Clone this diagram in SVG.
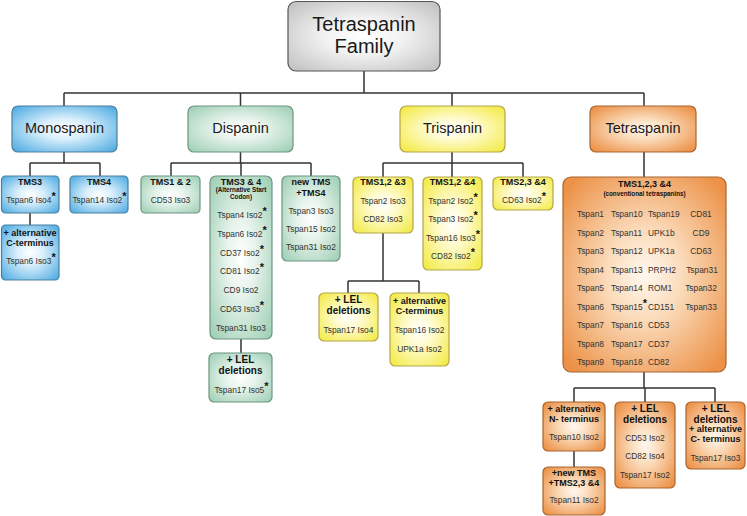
<svg xmlns="http://www.w3.org/2000/svg" width="747" height="516" viewBox="0 0 747 516">
<defs>
<radialGradient id="gGray" cx="50%" cy="50%" r="65%"><stop offset="0" stop-color="#ffffff"/><stop offset="0.4" stop-color="#f2f2f2"/><stop offset="1" stop-color="#c4c4c4"/></radialGradient>
<radialGradient id="gBlue" cx="50%" cy="50%" r="65%"><stop offset="0" stop-color="#ffffff"/><stop offset="0.35" stop-color="#d9effb"/><stop offset="1" stop-color="#56afe4"/></radialGradient>
<radialGradient id="gGreen" cx="50%" cy="50%" r="65%"><stop offset="0" stop-color="#ffffff"/><stop offset="0.35" stop-color="#e8f4ed"/><stop offset="1" stop-color="#a3d1b8"/></radialGradient>
<radialGradient id="gYellow" cx="50%" cy="50%" r="65%"><stop offset="0" stop-color="#ffffff"/><stop offset="0.35" stop-color="#fffbd0"/><stop offset="1" stop-color="#f3eb4a"/></radialGradient>
<radialGradient id="gOrange" cx="50%" cy="50%" r="65%"><stop offset="0" stop-color="#fff8f0"/><stop offset="0.35" stop-color="#fbdcbc"/><stop offset="1" stop-color="#ec9147"/></radialGradient>
</defs>
<style>
text{font-family:"Liberation Sans",Arial,sans-serif;text-anchor:middle;}
.top{font-size:20px;fill:#1a1a1a;}
.l1{font-size:14.5px;fill:#1a1a1a;}
.h{font-size:9px;font-weight:bold;fill:#111;}
.hl{font-size:10px;font-weight:bold;fill:#111;}
.sm{font-size:6.3px;font-weight:bold;fill:#111;}
.t{font-size:8.4px;fill:#333;}
.s{font-size:11px;font-weight:bold;fill:#111;}
.gray{fill:url(#gGray);stroke:#555;stroke-width:1.2;}
.blue{fill:url(#gBlue);stroke:#4a7f9e;stroke-width:1.2;}
.green{fill:url(#gGreen);stroke:#6e9481;stroke-width:1.2;}
.yellow{fill:url(#gYellow);stroke:#b3a54c;stroke-width:1.2;}
.orange{fill:url(#gOrange);stroke:#a8652e;stroke-width:1.2;}
.ln{fill:none;stroke:#333;stroke-width:1.5;}
</style>
<rect width="747" height="516" fill="#ffffff"/>

<g id="connectors" class="ln">
<path d="M364,71 V93 M64,93 H644 M64,93 V106 M240.5,93 V106 M452,93 V106 M644,93 V106"/>
<path d="M64,152 V163 M30,163 H100 M30,163 V176 M100,163 V176 M30,213 V225"/>
<path d="M240.5,152 V163 M171,163 H311 M171,163 V176 M241,163 V176 M311,163 V176 M241,339 V353"/>
<path d="M452,152 V163 M383,163 H523 M383,163 V177 M452,163 V177 M523,163 V177 M383,233 V281 M348,281 H419 M348,281 V293 M419,281 V293"/>
<path d="M644,152 V177 M644,372 V388 M574,388 H715 M574,388 V402 M645,388 V402 M715,388 V402 M574,451 V467"/>
</g>

<g id="root">
<rect class="gray" x="288" y="1.5" width="152" height="69.5" rx="8"/>
<text class="top" x="364" y="31">Tetraspanin</text>
<text class="top" x="364" y="53">Family</text>
</g>

<g id="monospanin">
<rect class="blue" x="12" y="106" width="105" height="46" rx="6"/>
<text class="l1" x="64.5" y="133">Monospanin</text>
</g>
<g id="dispanin">
<rect class="green" x="188" y="106" width="105" height="46" rx="6"/>
<text class="l1" x="240.5" y="133">Dispanin</text>
</g>
<g id="trispanin">
<rect class="yellow" x="400" y="106" width="105" height="46" rx="6"/>
<text class="l1" x="452.5" y="133">Trispanin</text>
</g>
<g id="tetraspanin">
<rect class="orange" x="590" y="106" width="106" height="46" rx="6"/>
<text class="l1" x="643" y="133">Tetraspanin</text>
</g>

<!-- Monospanin children -->
<g id="mono-tms3">
<rect class="blue" x="1.5" y="176" width="57.5" height="37" rx="4"/>
<text class="h" x="30" y="185">TMS3</text>
<text class="t" x="31" y="203">Tspan6 Iso4<tspan class="s" dy="-3">*</tspan></text>
</g>
<g id="mono-tms4">
<rect class="blue" x="70" y="176" width="58" height="37" rx="4"/>
<text class="h" x="99" y="185">TMS4</text>
<text class="t" x="99.5" y="203">Tspan14 Iso2<tspan class="s" dy="-3">*</tspan></text>
</g>
<g id="mono-altc">
<rect class="blue" x="1.5" y="225" width="57.5" height="55" rx="4"/>
<text class="h" x="30" y="236">+ alternative</text>
<text class="h" x="30" y="246">C-terminus</text>
<text class="t" x="31" y="264">Tspan6 Iso3<tspan class="s" dy="-3">*</tspan></text>
</g>

<!-- Dispanin children -->
<g id="di-tms12">
<rect class="green" x="141" y="176" width="59" height="37" rx="4"/>
<text class="h" x="170.5" y="185">TMS1 &amp; 2</text>
<text class="t" x="170.5" y="203">CD53 Iso3</text>
</g>
<g id="di-tms34">
<rect class="green" x="210" y="176" width="62" height="163" rx="6"/>
<text class="h" x="241" y="185">TMS3 &amp; 4</text>
<text class="sm" x="241" y="192">(Alternative Start</text>
<text class="sm" x="241" y="198.5">Codon)</text>
<text class="t" x="242" y="218">Tspan4 Iso2<tspan class="s" dy="-3">*</tspan></text>
<text class="t" x="242" y="237">Tspan6 Iso2<tspan class="s" dy="-3">*</tspan></text>
<text class="t" x="242" y="256">CD37 Iso2<tspan class="s" dy="-3">*</tspan></text>
<text class="t" x="242" y="274">CD81 Iso2<tspan class="s" dy="-3">*</tspan></text>
<text class="t" x="241" y="293">CD9 Iso2</text>
<text class="t" x="242" y="312">CD63 Iso3<tspan class="s" dy="-3">*</tspan></text>
<text class="t" x="241" y="331">Tspan31 Iso3</text>
</g>
<g id="di-newtms">
<rect class="green" x="282" y="176" width="58" height="85" rx="5"/>
<text class="h" x="311" y="185">new TMS</text>
<text class="h" x="311" y="196">+TMS4</text>
<text class="t" x="311" y="214">Tspan3 Iso3</text>
<text class="t" x="311" y="232">Tspan15 Iso2</text>
<text class="t" x="311" y="250">Tspan31 Iso2</text>
</g>
<g id="di-lel">
<rect class="green" x="209" y="353" width="63" height="49" rx="5"/>
<text class="hl" x="240.5" y="363">+ LEL</text>
<text class="hl" x="240.5" y="374">deletions</text>
<text class="t" x="241.5" y="393">Tspan17 Iso5<tspan class="s" dy="-3">*</tspan></text>
</g>

<!-- Trispanin children -->
<g id="tri-tms123">
<rect class="yellow" x="353" y="177" width="60" height="56" rx="5"/>
<text class="h" x="383" y="185">TMS1,2 &amp;3</text>
<text class="t" x="383" y="204">Tspan2 Iso3</text>
<text class="t" x="383" y="222">CD82 Iso3</text>
</g>
<g id="tri-tms124">
<rect class="yellow" x="423" y="177" width="59" height="93" rx="5"/>
<text class="h" x="452.5" y="185">TMS1,2 &amp;4</text>
<text class="t" x="453" y="204">Tspan2 Iso2<tspan class="s" dy="-3">*</tspan></text>
<text class="t" x="453" y="222">Tspan3 Iso2<tspan class="s" dy="-3">*</tspan></text>
<text class="t" x="453" y="241">Tspan16 Iso3<tspan class="s" dy="-3">*</tspan></text>
<text class="t" x="453" y="259">CD82 Iso2<tspan class="s" dy="-3">*</tspan></text>
</g>
<g id="tri-tms234">
<rect class="yellow" x="493" y="177" width="60" height="33" rx="5"/>
<text class="h" x="523" y="185">TMS2,3 &amp;4</text>
<text class="t" x="524" y="203">CD63 Iso2<tspan class="s" dy="-3">*</tspan></text>
</g>
<g id="tri-lel">
<rect class="yellow" x="319" y="293" width="59" height="48" rx="5"/>
<text class="hl" x="348.5" y="303">+ LEL</text>
<text class="hl" x="348.5" y="314">deletions</text>
<text class="t" x="348.5" y="333">Tspan17 Iso4</text>
</g>
<g id="tri-altc">
<rect class="yellow" x="390" y="293" width="59" height="73" rx="5"/>
<text class="h" x="419.5" y="304">+ alternative</text>
<text class="h" x="419.5" y="314">C-terminus</text>
<text class="t" x="419.5" y="333">Tspan16 Iso2</text>
<text class="t" x="419.5" y="352">UPK1a Iso2</text>
</g>

<!-- Tetraspanin children -->
<g id="tetra-main">
<rect class="orange" x="563" y="177" width="163" height="195" rx="8"/>
<text class="h" x="644.5" y="187">TMS1,2,3 &amp;4</text>
<text class="sm" x="644.5" y="196">(conventional    tetraspanins)</text>
<g class="t" style="text-anchor:start">
<text class="t" style="text-anchor:start" x="577" y="217">Tspan1</text>
<text class="t" style="text-anchor:start" x="611" y="217">Tspan10</text>
<text class="t" style="text-anchor:start" x="648" y="217">Tspan19</text>
<text class="t" x="701" y="217">CD81</text>
<text class="t" style="text-anchor:start" x="577" y="235.5">Tspan2</text>
<text class="t" style="text-anchor:start" x="611" y="235.5">Tspan11</text>
<text class="t" style="text-anchor:start" x="648" y="235.5">UPK1b</text>
<text class="t" x="701" y="235.5">CD9</text>
<text class="t" style="text-anchor:start" x="577" y="254">Tspan3</text>
<text class="t" style="text-anchor:start" x="611" y="254">Tspan12</text>
<text class="t" style="text-anchor:start" x="648" y="254">UPK1a</text>
<text class="t" x="701" y="254">CD63</text>
<text class="t" style="text-anchor:start" x="577" y="272.5">Tspan4</text>
<text class="t" style="text-anchor:start" x="611" y="272.5">Tspan13</text>
<text class="t" style="text-anchor:start" x="648" y="272.5">PRPH2</text>
<text class="t" x="702" y="272.5">Tspan31</text>
<text class="t" style="text-anchor:start" x="577" y="291">Tspan5</text>
<text class="t" style="text-anchor:start" x="611" y="291">Tspan14</text>
<text class="t" style="text-anchor:start" x="648" y="291">ROM1</text>
<text class="t" x="701" y="291">Tspan32</text>
<text class="t" style="text-anchor:start" x="577" y="309.5">Tspan6</text>
<text class="t" style="text-anchor:start" x="611" y="309.5">Tspan15<tspan class="s" dy="-3">*</tspan></text>
<text class="t" style="text-anchor:start" x="648" y="309.5">CD151</text>
<text class="t" x="701" y="309.5">Tspan33</text>
<text class="t" style="text-anchor:start" x="577" y="328">Tspan7</text>
<text class="t" style="text-anchor:start" x="611" y="328">Tspan16</text>
<text class="t" style="text-anchor:start" x="648" y="328">CD53</text>
<text class="t" style="text-anchor:start" x="577" y="346.5">Tspan8</text>
<text class="t" style="text-anchor:start" x="611" y="346.5">Tspan17</text>
<text class="t" style="text-anchor:start" x="648" y="346.5">CD37</text>
<text class="t" style="text-anchor:start" x="577" y="365">Tspan9</text>
<text class="t" style="text-anchor:start" x="611" y="365">Tspan18</text>
<text class="t" style="text-anchor:start" x="648" y="365">CD82</text>
</g>
</g>
<g id="tetra-altn">
<rect class="orange" x="543" y="402" width="62" height="49" rx="5"/>
<text class="h" x="574" y="412">+ alternative</text>
<text class="h" x="574" y="422">N- terminus</text>
<text class="t" x="574" y="440">Tspan10 Iso2</text>
</g>
<g id="tetra-lel">
<rect class="orange" x="615" y="402" width="60" height="86" rx="5"/>
<text class="hl" x="645" y="412">+ LEL</text>
<text class="hl" x="645" y="423">deletions</text>
<text class="t" x="645" y="441">CD53 Iso2</text>
<text class="t" x="645" y="459">CD82 Iso4</text>
<text class="t" x="645" y="478">Tspan17 Iso2</text>
</g>
<g id="tetra-lel-altc">
<rect class="orange" x="686" y="402" width="59" height="67" rx="5"/>
<text class="hl" x="715.5" y="412">+ LEL</text>
<text class="hl" x="715.5" y="423">deletions</text>
<text class="h" x="715.5" y="432">+ alternative</text>
<text class="h" x="715.5" y="442">C- terminus</text>
<text class="t" x="715.5" y="461">Tspan17 Iso3</text>
</g>
<g id="tetra-newtms">
<rect class="orange" x="543" y="467" width="62" height="48" rx="5"/>
<text class="h" x="574" y="476">+new TMS</text>
<text class="h" x="574" y="486">+TMS2,3 &amp;4</text>
<text class="t" x="574" y="503">Tspan11 Iso2</text>
</g>
</svg>
